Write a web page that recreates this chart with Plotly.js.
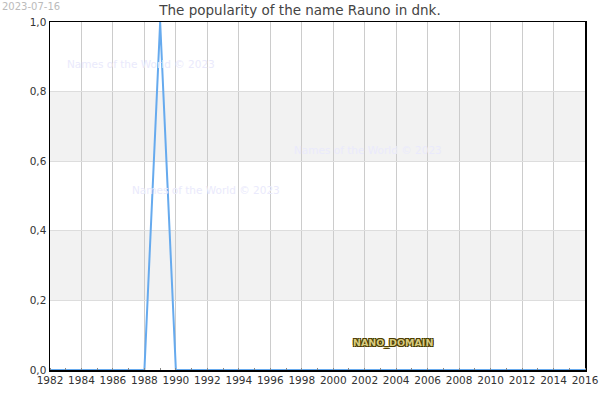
<!DOCTYPE html>
<html>
<head>
<meta charset="utf-8">
<script src="https://cdn.plot.ly/plotly-3.0.1.min.js"></script>
<style>
  body { margin: 0; background: #fff; }
  #chart { width: 600px; height: 400px; }
</style>
</head>
<body>
<div id="chart"></div>
<script>
// popularity of the name per year (peak normalised to 1)
var years = [];
for (var y = 1982; y <= 2016; y++) years.push(y);
var popularity = [
  0, 0, 0, 0, 0, 0, 0, 1, 0, 0,
  0, 0, 0, 0, 0, 0, 0, 0, 0, 0,
  0, 0, 0, 0, 0, 0, 0, 0, 0, 0,
  0, 0, 0, 0, 0
];
var bands = [[0.2, 0.4], [0.6, 0.8]];
var xTicks = [1982, 1984, 1986, 1988, 1990, 1992, 1994, 1996, 1998, 2000,
              2002, 2004, 2006, 2008, 2010, 2012, 2014, 2016];
var yTicks = [0, 0.2, 0.4, 0.6, 0.8, 1.0];

var trace = {
  type: "scatter",
  mode: "lines",
  x: years,
  y: popularity,
  line: { color: "#66aaee", width: 2 },
  hoverinfo: "x+y"
};

var shapes = bands.map(function (b) {
  return {
    type: "rect", layer: "below",
    xref: "paper", yref: "y",
    x0: 0, x1: 1, y0: b[0], y1: b[1],
    fillcolor: "#f2f2f2", line: { width: 0 }
  };
});

var wm = { color: "#eaeafc", size: 10.5, family: "DejaVu Sans, sans-serif" };
var annotations = [
  { text: "Names of the World © 2023", xref: "paper", yref: "paper",
    x: 0.028, y: 0.879, xanchor: "left", yanchor: "middle", showarrow: false, font: wm },
  { text: "Names of the World © 2023", xref: "paper", yref: "paper",
    x: 0.452, y: 0.632, xanchor: "left", yanchor: "middle", showarrow: false, font: wm },
  { text: "Names of the World © 2023", xref: "paper", yref: "paper",
    x: 0.149, y: 0.517, xanchor: "left", yanchor: "middle", showarrow: false, font: wm },
  { text: "NANO_DOMAIN", xref: "paper", yref: "paper",
    x: 0.563, y: 0.078, xanchor: "left", yanchor: "middle", showarrow: false,
    font: { color: "#d8cc80", size: 9.5, family: "DejaVu Sans, sans-serif", weight: "bold",
            shadow: "1px 1px 0 #4a3c00, -1px -1px 0 #4a3c00, 1px -1px 0 #4a3c00, -1px 1px 0 #4a3c00" } },
  { text: "2023-07-16", xref: "paper", yref: "paper",
    x: -0.0935, y: 1.066, xanchor: "left", yanchor: "top", showarrow: false,
    font: { color: "#bbbbbb", size: 10, family: "DejaVu Sans, sans-serif" } }
];

var layout = {
  width: 600, height: 400,
  margin: { l: 50, r: 15, t: 22, b: 30 },
  paper_bgcolor: "#ffffff",
  plot_bgcolor: "#ffffff",
  separators: ",.",
  font: { family: "DejaVu Sans, sans-serif", size: 11, color: "#333333" },
  title: {
    text: "The popularity of the name Rauno in dnk.",
    font: { size: 13.5, color: "#444444" },
    x: 0.5, xanchor: "center", y: 0.975, yanchor: "middle"
  },
  showlegend: false,
  xaxis: {
    range: [1982, 2016],
    tickvals: xTicks,
    ticktext: xTicks.map(String),
    tickfont: { size: 10.5 },
    showgrid: true, gridcolor: "#cccccc", gridwidth: 1,
    zeroline: false,
    showline: true, linecolor: "#000000", linewidth: 1.5, mirror: true,
    ticks: "", ticklen: 3,
    minor: { dtick: 1, ticks: "inside", ticklen: 2, tickcolor: "#888", showgrid: false }
  },
  yaxis: {
    range: [0, 1],
    tickvals: yTicks,
    tickformat: ".1f",
    tickfont: { size: 10.5 },
    showgrid: true, gridcolor: "#dddddd", gridwidth: 1,
    zeroline: false,
    showline: true, linecolor: "#000000", linewidth: 1.5, mirror: true,
    ticks: ""
  },
  shapes: shapes,
  annotations: annotations
};

Plotly.newPlot("chart", [trace], layout, { displayModeBar: false, staticPlot: true });
</script>
</body>
</html>
